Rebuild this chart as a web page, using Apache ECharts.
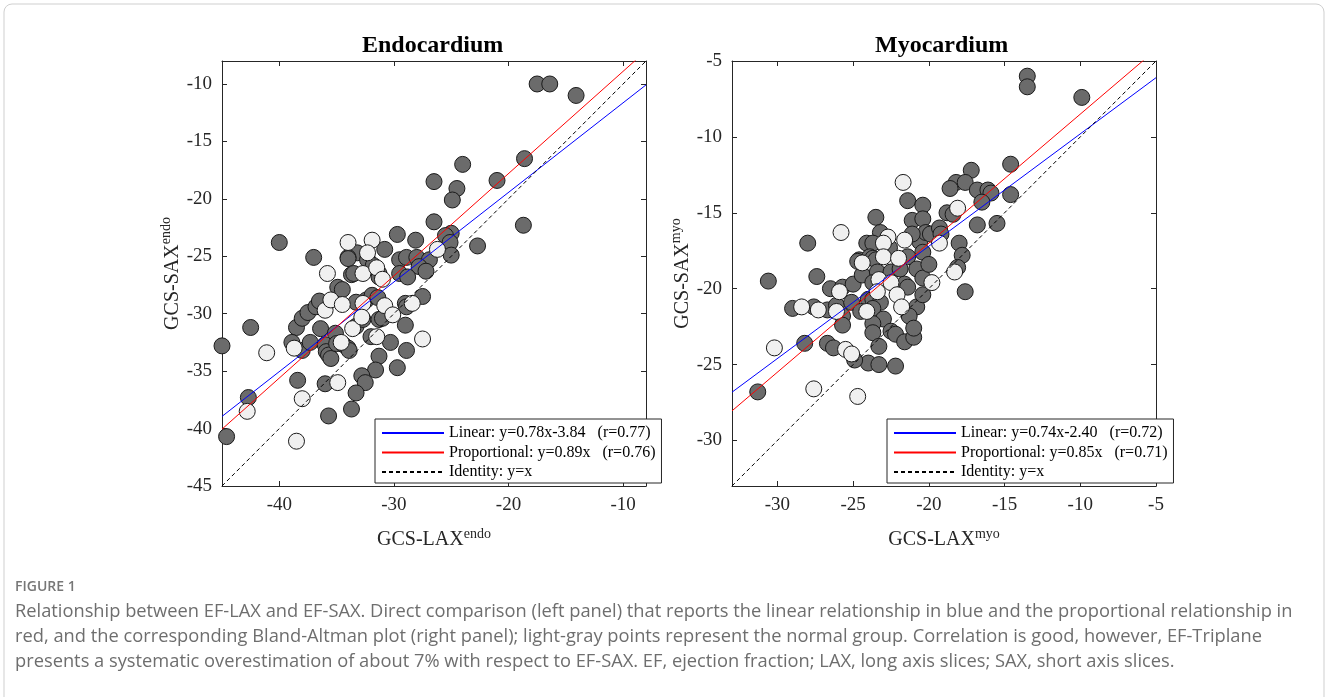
<!DOCTYPE html>
<html>
<head>
<meta charset="utf-8">
<script src="https://cdn.jsdelivr.net/npm/echarts@6/dist/echarts.min.js"></script>
<style>
  html, body { margin: 0; padding: 0; background: #fff; }
  #chart { width: 1328px; height: 697px; }
</style>
</head>
<body>
<div id="chart"></div>
<script>
  // GCS endocardium: [LAX, SAX]
  var endoPatients = [
    [-17.5, -10.0], [-16.4, -10.0], [-14.1, -11.0], [-18.6, -16.5], [-21.0, -18.4], [-24.0, -17.0],
    [-24.5, -19.1], [-24.9, -20.1], [-26.5, -18.5], [-26.5, -22.0], [-18.7, -22.3], [-22.7, -24.1],
    [-25.0, -23.0], [-25.5, -23.2], [-25.1, -23.8], [-25.0, -24.9], [-29.7, -23.1], [-28.1, -23.6],
    [-40.0, -23.8], [-33.2, -24.7], [-30.8, -24.4], [-37.0, -25.1], [-34.0, -25.1], [-29.5, -25.3],
    [-28.9, -25.1], [-28.0, -25.1], [-26.9, -25.3], [-45.0, -32.8], [-44.6, -40.7], [-42.7, -37.3],
    [-42.5, -31.2], [-38.5, -31.2], [-38.0, -30.4], [-37.5, -29.9], [-36.8, -29.4], [-36.5, -28.9],
    [-38.9, -32.5], [-38.0, -33.2], [-37.3, -32.5], [-38.4, -35.8], [-36.4, -31.3], [-36.0, -32.7],
    [-35.9, -33.3], [-35.7, -33.6], [-35.5, -33.9], [-36.0, -36.1], [-35.7, -38.9], [-35.1, -31.7],
    [-35.0, -32.6], [-34.4, -32.7], [-34.0, -33.0], [-33.9, -33.2], [-34.9, -27.7], [-34.5, -27.9],
    [-34.0, -25.2], [-33.7, -26.6], [-33.5, -26.5], [-33.3, -29.0], [-33.3, -31.1], [-32.4, -28.8],
    [-32.7, -30.5], [-32.3, -25.3], [-31.8, -25.8], [-31.3, -26.5], [-31.3, -26.8], [-32.0, -32.0],
    [-31.9, -28.4], [-31.4, -28.6], [-31.3, -30.5], [-31.0, -30.4], [-30.3, -32.5], [-31.3, -33.7],
    [-31.6, -34.9], [-32.8, -35.4], [-32.5, -36.0], [-33.3, -36.9], [-33.7, -38.3], [-29.7, -34.7],
    [-27.8, -25.9], [-27.2, -26.3], [-29.5, -26.5], [-28.8, -26.8], [-29.0, -29.1], [-28.9, -29.4],
    [-29.0, -31.0], [-28.9, -33.2], [-27.5, -28.5]
  ];
  var endoNormal = [
    [-34.0, -23.8], [-31.9, -23.6], [-32.3, -24.7], [-26.2, -24.4], [-42.8, -38.5], [-41.1, -33.4],
    [-38.7, -33.0], [-38.0, -37.4], [-38.5, -41.1], [-36.0, -29.7], [-34.9, -36.0], [-35.8, -26.5],
    [-35.5, -28.8], [-34.6, -32.5], [-34.5, -29.2], [-33.6, -31.3], [-32.7, -26.5], [-32.7, -29.1],
    [-32.8, -30.3], [-31.5, -26.0], [-31.0, -27.0], [-31.5, -32.0], [-30.8, -29.3], [-30.1, -30.1],
    [-28.4, -29.1], [-27.5, -32.2]
  ];

  // GCS myocardium: [LAX, SAX]
  var myoPatients = [
    [-13.5, -6.0], [-13.5, -6.7], [-9.9, -7.4], [-14.6, -11.8], [-14.6, -13.8], [-17.2, -12.2],
    [-18.2, -13.0], [-17.6, -13.0], [-18.6, -13.4], [-16.8, -13.5], [-16.1, -13.5], [-15.9, -13.7],
    [-16.5, -14.3], [-15.5, -15.7], [-16.8, -15.8], [-18.8, -15.0], [-18.4, -15.1], [-18.0, -17.0],
    [-17.8, -17.8], [-21.4, -14.2], [-20.4, -14.5], [-21.1, -15.5], [-20.4, -15.4], [-23.5, -15.3],
    [-28.0, -17.0], [-23.2, -16.3], [-24.1, -17.0], [-23.7, -17.0], [-20.6, -16.9], [-20.2, -16.3],
    [-19.9, -16.4], [-19.3, -16.0], [-19.2, -16.4], [-22.6, -17.3], [-20.4, -17.6], [-24.6, -18.1],
    [-23.9, -17.9], [-21.1, -16.4], [-21.4, -17.9], [-30.6, -19.5], [-27.4, -19.2], [-29.0, -21.3],
    [-27.6, -21.2], [-26.7, -21.4], [-26.5, -20.0], [-25.7, -19.9], [-25.0, -19.7], [-26.1, -21.1],
    [-25.7, -21.8], [-25.7, -22.4], [-25.1, -20.9], [-24.4, -19.1], [-24.7, -18.2], [-23.7, -18.0],
    [-23.5, -18.1], [-23.4, -18.9], [-23.7, -19.6], [-22.5, -18.9], [-21.9, -18.7], [-20.8, -18.7],
    [-20.4, -19.3], [-20.0, -18.4], [-21.6, -19.7], [-21.4, -19.9], [-24.0, -20.7], [-23.7, -20.7],
    [-23.2, -20.9], [-24.5, -21.5], [-23.7, -21.3], [-20.8, -21.2], [-21.3, -21.8], [-20.4, -20.4],
    [-23.0, -22.0], [-23.7, -22.3], [-23.7, -22.9], [-22.5, -22.8], [-22.2, -23.0], [-21.6, -23.5],
    [-21.0, -23.2], [-21.0, -22.6], [-23.3, -23.8], [-24.0, -24.9], [-23.3, -25.0], [-22.2, -25.1],
    [-26.7, -23.6], [-26.3, -23.9], [-24.9, -24.7], [-28.2, -23.6], [-31.3, -26.8], [-18.1, -18.6],
    [-17.6, -20.2]
  ];
  var myoNormal = [
    [-18.1, -14.7], [-21.7, -13.0], [-25.8, -16.3], [-22.7, -16.6], [-21.6, -16.8], [-23.0, -17.0],
    [-19.3, -17.0], [-23.0, -17.9], [-22.0, -18.0], [-28.4, -21.2], [-27.3, -21.4], [-25.9, -20.2],
    [-26.1, -21.5], [-24.4, -18.3], [-23.3, -19.4], [-23.4, -20.2], [-22.5, -19.6], [-19.8, -19.6],
    [-22.1, -20.4], [-24.1, -21.5], [-21.8, -21.2], [-25.5, -24.0], [-25.1, -24.3], [-30.2, -23.9],
    [-27.6, -26.6], [-24.7, -27.1], [-18.3, -18.9]
  ];

  // fits: [slope, intercept]
  var endoLinear = [0.78, -3.84];
  var endoProp = [0.89, 0];
  var myoLinear = [0.74, -2.40];
  var myoProp = [0.85, 0];
  var identity = [1, 0];

  var endoRange = [-45, -8];
  var myoRange = [-33, -5];
  var endoXTicks = [-40, -30, -20, -10];
  var endoYTicks = [-45, -40, -35, -30, -25, -20, -15, -10];
  var myoXTicks = [-30, -25, -20, -15, -10, -5];
  var myoYTicks = [-30, -25, -20, -15, -10, -5];

  var endoNames = ['Linear: y=0.78x-3.84   (r=0.77)', 'Proportional: y=0.89x   (r=0.76)', 'Identity: y=x'];
  var myoNames = ['Linear: y=0.74x-2.40   (r=0.72)', 'Proportional: y=0.85x   (r=0.71)', 'Identity: y=x'];

  var caption = [
    'Relationship between EF-LAX and EF-SAX. Direct comparison (left panel) that reports the linear relationship in blue and the proportional relationship in',
    'red, and the corresponding Bland-Altman plot (right panel); light-gray points represent the normal group. Correlation is good, however, EF-Triplane',
    'presents a systematic overestimation of about 7% with respect to EF-SAX. EF, ejection fraction; LAX, long axis slices; SAX, short axis slices.'
  ];

  var serif = 'Liberation Serif';
  var axisColor = '#262626';

  function fitLine(coef, range) {
    return [
      [range[0], coef[0] * range[0] + coef[1]],
      [range[1], coef[0] * range[1] + coef[1]]
    ];
  }

  var nameRich = {
    b: {fontFamily: serif, fontSize: 20, color: axisColor},
    s: {fontFamily: serif, fontSize: 14, color: axisColor, padding: [0, 0, 12, 0]}
  };

  function makeX(grid, range, ticks, pos, name, sup) {
    var ax = {
      type: 'value', gridIndex: grid, position: pos, min: range[0], max: range[1],
      splitLine: {show: false},
      axisLine: {show: true, onZero: false, lineStyle: {color: axisColor, width: 1}},
      axisTick: {show: true, inside: true, length: 5, customValues: ticks, lineStyle: {color: axisColor}},
      axisLabel: {show: pos === 'bottom', customValues: ticks, margin: 10,
        fontFamily: serif, fontSize: 19, color: axisColor}
    };
    if (name) {
      ax.name = '{b|' + name + '}{s|' + sup + '}';
      ax.nameLocation = 'middle';
      ax.nameGap = 41;
      ax.nameTextStyle = {rich: nameRich};
    }
    return ax;
  }

  function makeY(grid, range, ticks, pos, name, sup) {
    var ax = {
      type: 'value', gridIndex: grid, position: pos, min: range[0], max: range[1],
      splitLine: {show: false},
      axisLine: {show: true, onZero: false, lineStyle: {color: axisColor, width: 1}},
      axisTick: {show: true, inside: true, length: 5, customValues: ticks, lineStyle: {color: axisColor}},
      axisLabel: {show: pos === 'left', customValues: ticks, margin: 10,
        fontFamily: serif, fontSize: 19, color: axisColor}
    };
    if (name) {
      ax.name = '{b|' + name + '}{s|' + sup + '}';
      ax.nameLocation = 'middle';
      ax.nameGap = 30;
      ax.nameRotate = 90;
      ax.nameTextStyle = {rich: nameRich};
    }
    return ax;
  }

  function dots(data, idx, fill) {
    return {
      type: 'scatter', xAxisIndex: idx, yAxisIndex: idx, data: data,
      symbol: 'circle', symbolSize: 16, clip: false, z: 2,
      itemStyle: {color: fill, borderColor: '#1a1a1a', borderWidth: 1, opacity: 1},
      emphasis: {disabled: true}
    };
  }

  function fit(name, coef, range, idx, color, dash) {
    return {
      name: name, type: 'line', xAxisIndex: idx, yAxisIndex: idx,
      data: fitLine(coef, range), symbol: 'none', clip: true, z: 3,
      lineStyle: {color: color, width: 1, type: dash ? [4, 3] : 'solid'},
      itemStyle: {color: color},
      emphasis: {disabled: true}
    };
  }

  function legendAt(left, names) {
    return {
      left: left, top: 419, orient: 'vertical', data: names,
      selectedMode: false, itemWidth: 62, itemHeight: 4, itemGap: 3.5,
      itemStyle: {opacity: 0},
      backgroundColor: '#fff', borderColor: axisColor, borderWidth: 1,
      padding: [6, 6, 3, 6],
      textStyle: {fontFamily: serif, fontSize: 16, lineHeight: 16, color: '#000'}
    };
  }

  var chart = echarts.init(document.getElementById('chart'));

  var option = {
    animation: false,
    backgroundColor: '#fff',
    grid: [
      {left: 222, top: 61, width: 424, height: 425},
      {left: 732, top: 61, width: 424, height: 425}
    ],
    xAxis: [
      makeX(0, endoRange, endoXTicks, 'bottom', 'GCS-LAX', 'endo'),
      makeX(1, myoRange, myoXTicks, 'bottom', 'GCS-LAX', 'myo'),
      makeX(0, endoRange, endoXTicks, 'top'),
      makeX(1, myoRange, myoXTicks, 'top')
    ],
    yAxis: [
      makeY(0, endoRange, endoYTicks, 'left', 'GCS-SAX', 'endo'),
      makeY(1, myoRange, myoYTicks, 'left', 'GCS-SAX', 'myo'),
      makeY(0, endoRange, endoYTicks, 'right'),
      makeY(1, myoRange, myoYTicks, 'right')
    ],
    legend: [legendAt(375, endoNames), legendAt(887, myoNames)],
    series: [
      dots(endoPatients, 0, '#6b6b6b'),
      dots(endoNormal, 0, '#f0f0f0'),
      dots(myoPatients, 1, '#6b6b6b'),
      dots(myoNormal, 1, '#f0f0f0'),
      fit(endoNames[0], endoLinear, endoRange, 0, '#0000ff'),
      fit(endoNames[1], endoProp, endoRange, 0, '#ff0000'),
      fit(endoNames[2], identity, endoRange, 0, '#000000', true),
      fit(myoNames[0], myoLinear, myoRange, 1, '#0000ff'),
      fit(myoNames[1], myoProp, myoRange, 1, '#ff0000'),
      fit(myoNames[2], identity, myoRange, 1, '#000000', true)
    ],
    graphic: [
      {type: 'rect', shape: {x: 4, y: 4, width: 1320, height: 720, r: 8},
        style: {fill: 'none', stroke: '#cfcfcf', lineWidth: 1}, silent: true},
      {type: 'text', left: 362, top: 34,
        style: {text: 'Endocardium', fontFamily: serif, fontWeight: 'bold', fontSize: 24, fill: '#000'}},
      {type: 'text', left: 875, top: 34,
        style: {text: 'Myocardium', fontFamily: serif, fontWeight: 'bold', fontSize: 24, fill: '#000'}},
      {type: 'text', left: 15, top: 580,
        style: {text: 'FIGURE 1', fontFamily: 'Open Sans', fontWeight: 600, fontSize: 14, fill: '#777'}},
      {type: 'text', left: 15, top: 603,
        style: {text: caption[0], fontFamily: 'Open Sans', fontSize: 18.3, fill: '#6e6e6e'}},
      {type: 'text', left: 15, top: 628,
        style: {text: caption[1], fontFamily: 'Open Sans', fontSize: 18.3, fill: '#6e6e6e'}},
      {type: 'text', left: 15, top: 653,
        style: {text: caption[2], fontFamily: 'Open Sans', fontSize: 18.3, fill: '#6e6e6e'}}
    ]
  };

  chart.setOption(option);
</script>
</body>
</html>
